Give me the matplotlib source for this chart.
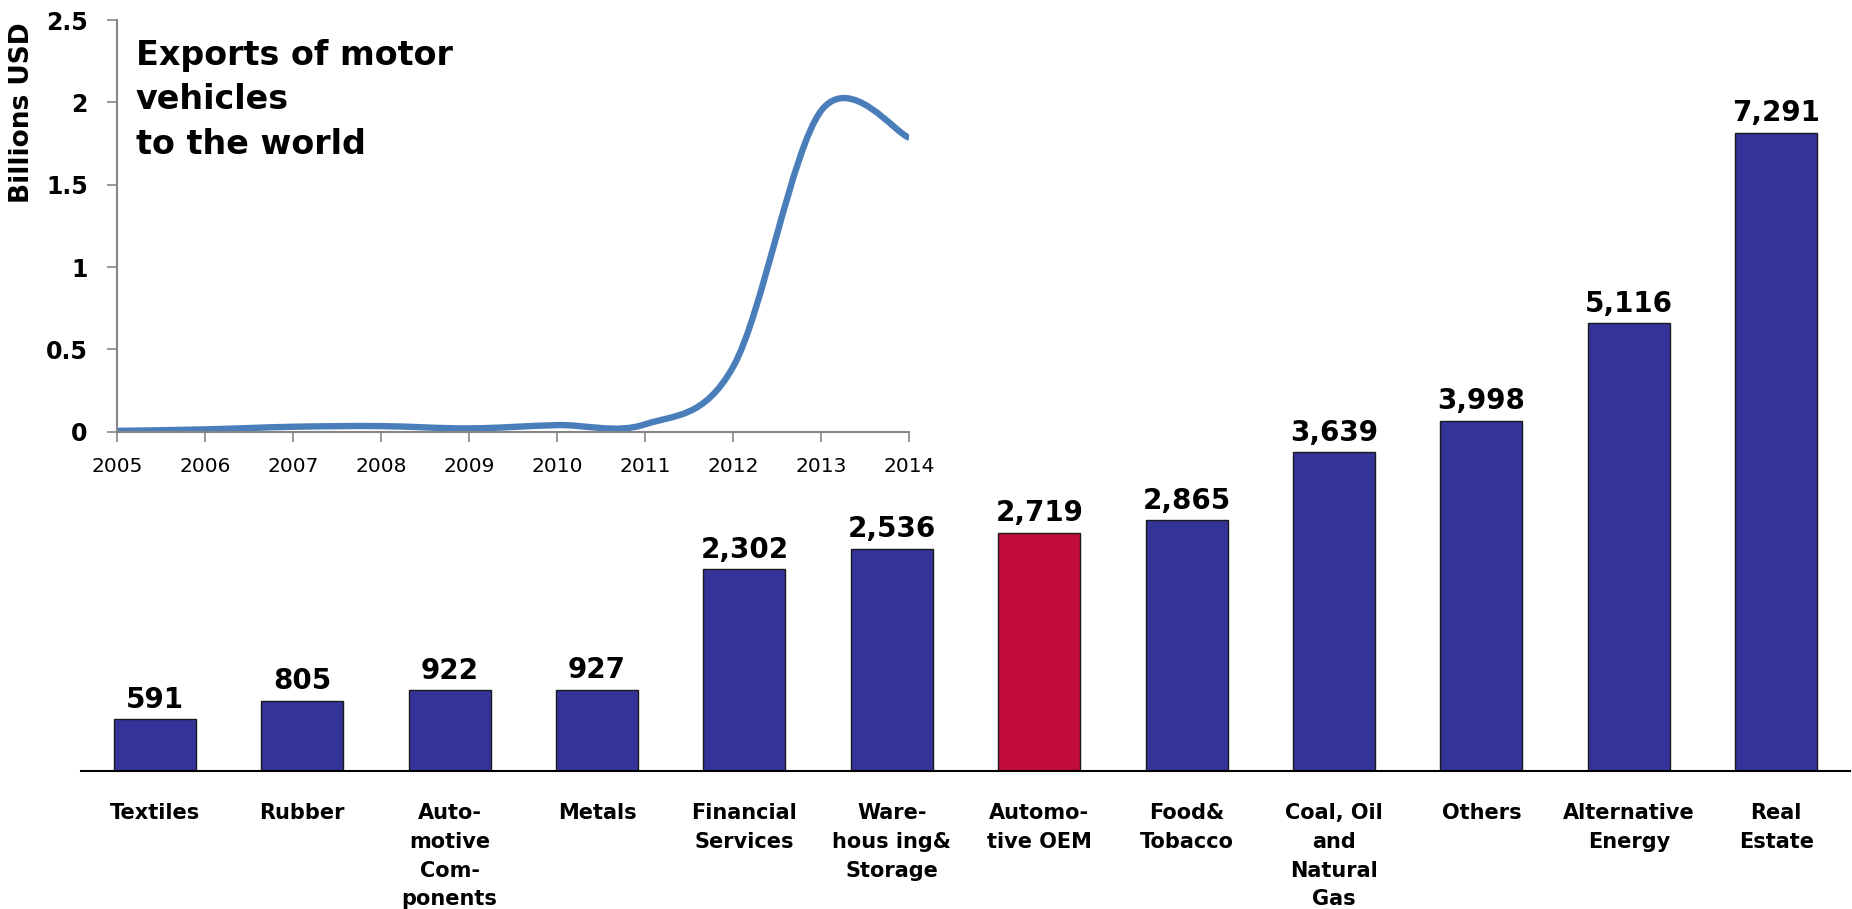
import numpy as np
import matplotlib
matplotlib.use('Agg')
import matplotlib.pyplot as plt
from matplotlib.path import Path
from matplotlib.patches import PathPatch

# Bar chart data: projects by sector
sectors = ['Textiles', 'Rubber', 'Auto-\nmotive\nCom-\nponents', 'Metals',
           'Financial\nServices', 'Ware-\nhous ing&\nStorage', 'Automo-\ntive OEM',
           'Food&\nTobacco', 'Coal, Oil\nand\nNatural\nGas', 'Others',
           'Alternative\nEnergy', 'Real\nEstate']
sector_values = [591, 805, 922, 927, 2302, 2536, 2719, 2865, 3639, 3998, 5116, 7291]
highlight = 'Automo-\ntive OEM'

# Inset data: exports of motor vehicles (billions USD)
years = [2005, 2006, 2007, 2008, 2009, 2010, 2011, 2012, 2013, 2014]
exports = [0.005, 0.014, 0.03, 0.034, 0.02, 0.04, 0.045, 0.395, 1.95, 1.785]

BLUE = '#333399'
RED = '#C20C3B'
LINE_BLUE = '#4A7EBB'
GREY = '#868686'

W, H = 1852, 909
fig = plt.figure(figsize=(W / 100, H / 100), dpi=100)

# Main bar axes
ax = fig.add_axes([81 / W, 138 / H, (1850 - 81) / W, 771 / H])
x = np.arange(len(sectors))
colors = [RED if s == highlight else BLUE for s in sectors]
bars = ax.bar(x, sector_values, width=0.556, color=colors, edgecolor='#1a1a1a', linewidth=1.0)
ax.set_xlim(-0.5, len(sectors) - 0.5)
ax.set_ylim(0, 771 / 0.08755)
ax.bar_label(bars, labels=[f'{v:,}' for v in sector_values], padding=4,
             fontsize=20, fontweight='bold', color='black')
ax.set_xticks(x)
ax.set_xticklabels(sectors, fontsize=15, fontweight='bold', linespacing=1.55)
ax.tick_params(axis='x', length=0, pad=23)
ax.set_yticks([])
for side in ['top', 'right', 'left']:
    ax.spines[side].set_visible(False)
ax.spines['bottom'].set_linewidth(1.5)
ax.spines['bottom'].set_color('black')
ax.patch.set_alpha(0)

# Inset line chart
iax = fig.add_axes([117 / W, (H - 431.7) / H, (909.3 - 117) / W, (431.7 - 20) / H])
iax.patch.set_alpha(0)
iax.set_xlim(years[0], years[-1])
iax.set_ylim(0, 2.5)

# smooth curve through the points (Catmull-Rom as cubic Bezier segments)
pts = np.column_stack([years, exports]).astype(float)
padded = np.vstack([pts[0], pts, pts[-1]])
verts = [tuple(pts[0])]
codes = [Path.MOVETO]
for i in range(1, len(padded) - 2):
    p0, p1, p2, p3 = padded[i - 1], padded[i], padded[i + 1], padded[i + 2]
    c1 = p1 + (p2 - p0) / 6.0
    c2 = p2 - (p3 - p1) / 6.0
    verts += [tuple(c1), tuple(c2), tuple(p2)]
    codes += [Path.CURVE4] * 3
iax.add_patch(PathPatch(Path(verts, codes), facecolor='none', edgecolor=LINE_BLUE,
                        linewidth=4.6, capstyle='butt', transform=iax.transData))

iax.set_xticks(years)
iax.set_xticklabels([str(y) for y in years], fontsize=14.5)
iax.set_yticks([0, 0.5, 1, 1.5, 2, 2.5])
iax.set_yticklabels(['0', '0.5', '1', '1.5', '2', '2.5'], fontsize=17, fontweight='bold')
iax.tick_params(axis='both', direction='out', color=GREY, length=7, width=1.2)
iax.tick_params(axis='y', pad=14)
iax.tick_params(axis='x', pad=11)
for side in ['top', 'right']:
    iax.spines[side].set_visible(False)
for side in ['left', 'bottom']:
    iax.spines[side].set_color(GREY)
    iax.spines[side].set_linewidth(1.5)

fig.text(22 / W, 1 - 113 / H, 'Billions USD', rotation=90, fontsize=19,
         fontweight='bold', ha='center', va='center')

fig.text(136 / W, 1 - 39 / H, 'Exports of motor\nvehicles\nto the world',
         fontsize=24, fontweight='bold', va='top', ha='left', linespacing=1.44)

fig.savefig('out.png', dpi=100)
